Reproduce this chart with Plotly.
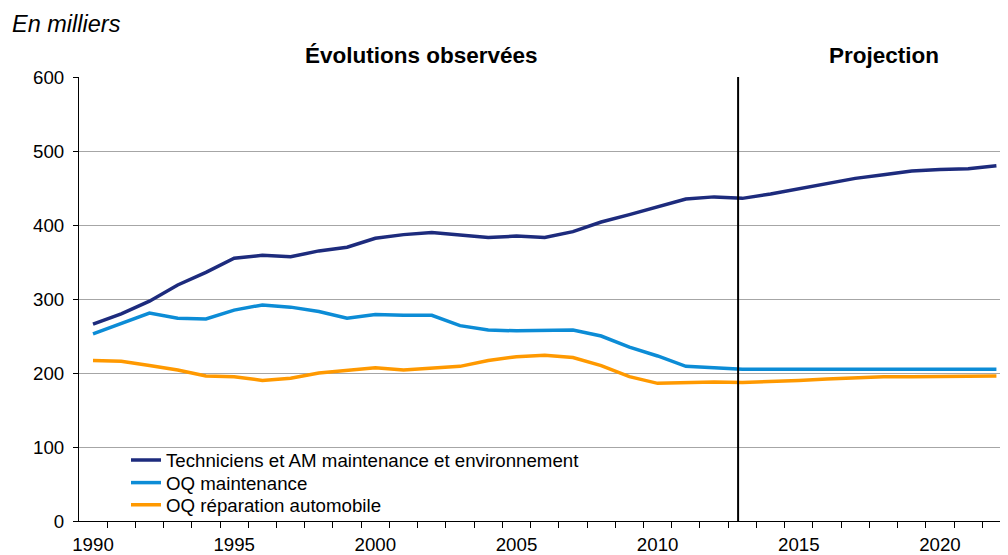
import plotly.graph_objects as go

# Effectifs en milliers, 1990-2022 (observé puis projection)
years = list(range(1990, 2023))
techniciens = [266, 280, 297, 319, 336, 355, 359, 357, 365, 370, 382, 387, 390, 387, 383, 385,
               383, 391, 404, 414, 425, 435, 438, 436, 442, 449, 456, 463, 468, 473, 475, 476, 480]
oq_maintenance = [253, 267, 281, 274, 273, 285, 292, 289, 283, 274, 279, 278, 278, 264, 258, 257,
                  257, 258, 250, 235, 223, 209, 207, 205, 205, 205, 206, 206, 206, 206, 206, 205, 205]
oq_auto = [217, 216, 210, 204, 196, 195, 190, 193, 200, 203, 207, 204, 206, 209, 217, 222,
           224, 221, 210, 195, 186, 187, 188, 187, 188, 190, 192, 194, 195, 195, 195, 196, 196]

names = ["Techniciens et AM maintenance et environnement", "OQ maintenance", "OQ réparation automobile"]
colors = ["#1D2B7D", "#0C8CD6", "#FF9900"]
x_labels = [1990, 1995, 2000, 2005, 2010, 2015, 2020]
y_ticks = [0, 100, 200, 300, 400, 500, 600]
projection_start = 2012.85

FONT = "Liberation Sans, Arial, sans-serif"

# one legend per series so the rows can be packed like the original
legend_ids = ["legend", "legend2", "legend3"]
legend_y = [0.1365, 0.0857, 0.0358]

fig = go.Figure()
for name, vals, col, lg in zip(names, [techniciens, oq_maintenance, oq_auto], colors, legend_ids):
    fig.add_trace(go.Scatter(x=years, y=vals, name=name, mode="lines", legend=lg,
                             line=dict(color=col, width=3.5)))

# separation observe / projection
fig.add_shape(type="line", xref="x", yref="paper", x0=projection_start, x1=projection_start,
              y0=0, y1=1, line=dict(color="black", width=2))

fig.add_annotation(text="<i>En milliers</i>", xref="paper", yref="paper", x=-0.0743, y=1.1186,
                   xanchor="left", yanchor="middle", showarrow=False, font=dict(size=23.5, color="black"))
fig.add_annotation(text="<b>Évolutions observées</b>", xref="x", yref="paper", x=2001.62, y=1.049,
                   xanchor="center", yanchor="middle", showarrow=False, font=dict(size=22.5, color="black"))
fig.add_annotation(text="<b>Projection</b>", xref="x", yref="paper", x=2018.02, y=1.049,
                   xanchor="center", yanchor="middle", showarrow=False, font=dict(size=22.5, color="black"))

legend_style = dict(x=0.0506, xanchor="left", yanchor="middle", bgcolor="rgba(0,0,0,0)",
                    font=dict(size=18.7), itemwidth=30)

fig.update_layout(
    width=1000, height=547,
    margin=dict(l=71, r=0, t=69, b=31),
    paper_bgcolor="white", plot_bgcolor="white",
    font=dict(family=FONT, size=18.7, color="black"),
    showlegend=True,
    legend=dict(y=legend_y[0], **legend_style),
    legend2=dict(y=legend_y[1], **legend_style),
    legend3=dict(y=legend_y[2], **legend_style),
    xaxis=dict(range=[1989.504, 2022.41], tickvals=x_labels, ticks="", showgrid=False,
               showline=True, linecolor="black", linewidth=1, zeroline=False, ticklabelstandoff=7,
               minor=dict(tick0=1989.5, dtick=1, ticks="outside", ticklen=6,
                          tickcolor="black", showgrid=False)),
    yaxis=dict(range=[0, 600], tickvals=y_ticks, ticks="outside", ticklen=5, tickcolor="black",
               showline=True, linecolor="black", linewidth=1, zeroline=False, ticklabelstandoff=5,
               showgrid=True, gridcolor="#A6A6A6", gridwidth=1),
)

fig.write_html("out.html")
